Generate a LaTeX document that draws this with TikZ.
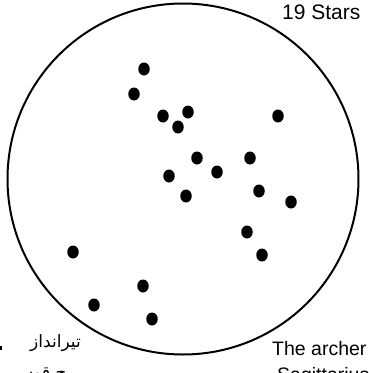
\documentclass[tikz,border=0pt]{standalone}
\usepackage{fontspec}
\usetikzlibrary{shapes.geometric}
\setmainfont{Liberation Sans}
\newfontfamily\arabicfont[Script=Arabic]{DejaVu Sans}
\TeXXeTstate=1
\begin{document}
\begin{tikzpicture}[x=1pt,y=-1pt,
  stardot/.style={ellipse,fill=black,inner sep=0pt,minimum width=11.5pt,minimum height=13pt},
  label/.style={anchor=base west,inner sep=0pt,font=\fontsize{19.5}{22}\selectfont},
  urdu/.style={anchor=base east,inner sep=0pt,font=\arabicfont\fontsize{17}{19}\selectfont}]
\useasboundingbox (0,0) rectangle (369,373);
\draw[line width=2pt] (183,179) circle [radius=175.5pt];
\node[stardot] (s1) at (144,69) {};
\node[stardot] (s2) at (134,94) {};
\node[stardot] (s3) at (163,116) {};
\node[stardot] (s4) at (188,112) {};
\node[stardot] (s5) at (178,127) {};
\node[stardot] (s6) at (278,116) {};
\node[stardot] (s7) at (197,158) {};
\node[stardot] (s8) at (250,158) {};
\node[stardot] (s9) at (217,172) {};
\node[stardot] (s10) at (169,176) {};
\node[stardot] (s11) at (186,196) {};
\node[stardot] (s12) at (259,191) {};
\node[stardot] (s13) at (291,202) {};
\node[stardot] (s14) at (247,232) {};
\node[stardot] (s15) at (262,255) {};
\node[stardot] (s16) at (73,252) {};
\node[stardot] (s17) at (143,286) {};
\node[stardot] (s18) at (94,305) {};
\node[stardot] (s19) at (152,319) {};
\node[label,font=\fontsize{21}{24}\selectfont] (stars) at (282,19) {19 Stars};
\node[label] (archer) at (272,355) {The archer};
\node[label] (sag) at (277,381) {Sagittarius};
\node[urdu] (ur1) at (81,347) {\beginR تیرانداز\endR};
\node[urdu] (ur2) at (81,378) {\beginR برج قوس\endR};
\fill (0,346) rectangle (2,350);
\end{tikzpicture}
\end{document}
